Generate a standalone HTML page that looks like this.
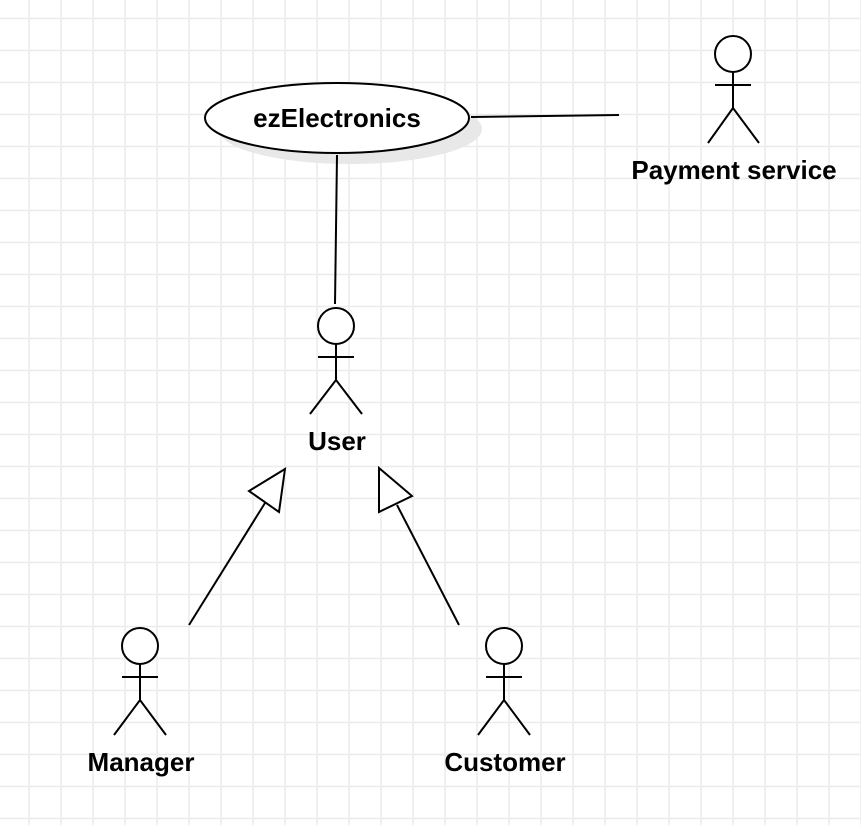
<!DOCTYPE html>
<html><head><style>
html,body{margin:0;padding:0;background:#fff;}
body{width:861px;height:825px;overflow:hidden;}
</style></head><body>
<svg width="861" height="825" xmlns="http://www.w3.org/2000/svg">
<defs>
<pattern id="g" width="32" height="32" patternUnits="userSpaceOnUse" x="13" y="2.5">
<path d="M16 0V32M0 16H32" stroke="#ebebeb" stroke-width="1.5" fill="none"/>
</pattern>
</defs>
<rect width="861" height="825" fill="url(#g)"/>
<g stroke="#000" stroke-width="2" fill="none">
<ellipse cx="350" cy="129" rx="132" ry="35" fill="#e8e8e8" stroke="none"/>
<ellipse cx="337" cy="118" rx="132" ry="35" fill="#fff"/>
<line x1="337" y1="155" x2="335" y2="304"/>
<line x1="471" y1="117" x2="619" y2="115"/>
<line x1="189" y1="625" x2="265" y2="503"/>
<polygon points="285,469 249,491 279,512" fill="#fff"/>
<line x1="459" y1="625" x2="397" y2="505"/>
<polygon points="379,468 379,512 412,496" fill="#fff"/>
<circle cx="733" cy="54" r="18" fill="#fff"/>
<path d="M733 72V108M715 85H751M708 143L733 108L759 143"/>
<circle cx="336" cy="326" r="18" fill="#fff"/>
<path d="M336 344V380M318 357H354M310 414L336 380L362 414"/>
<circle cx="140" cy="646" r="18" fill="#fff"/>
<path d="M140 664V700M122 677H158M114 735L140 700L166 735"/>
<circle cx="504" cy="646" r="18" fill="#fff"/>
<path d="M504 664V700M486 677H522M478 735L504 700L530 735"/>
</g>
<g font-family="Liberation Sans, sans-serif" font-weight="bold" font-size="26" text-anchor="middle" fill="#000">
<text x="337" y="127">ezElectronics</text>
<text x="734" y="179">Payment service</text>
<text x="337" y="450">User</text>
<text x="141" y="771">Manager</text>
<text x="505" y="771">Customer</text>
</g>
</svg>
</body></html>
